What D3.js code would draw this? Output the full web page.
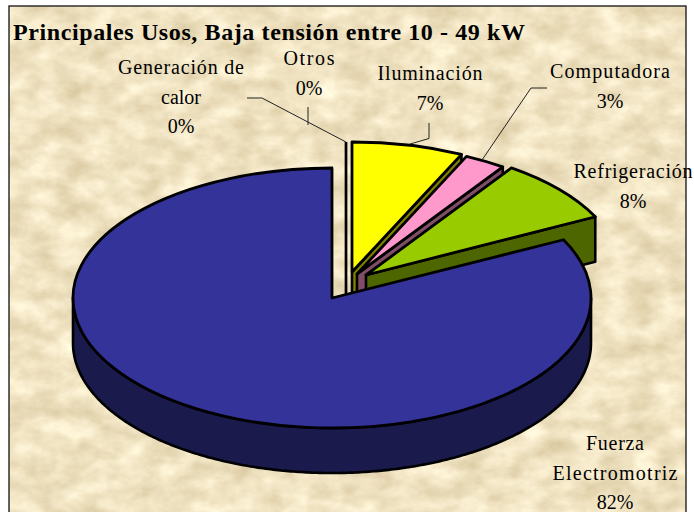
<!DOCTYPE html>
<html>
<head>
<meta charset="utf-8">
<script src="https://cdn.jsdelivr.net/npm/d3@7"></script>
<style>
html,body{margin:0;padding:0;background:#fff;}
svg{display:block;}
text{font-family:"Liberation Serif",serif;fill:#000;}
</style>
</head>
<body>
<svg id="c" width="694" height="512"></svg>
<script>
// Data
const categories = ["Otros", "Generación de calor", "Iluminación", "Computadora", "Refrigeración", "Fuerza Electromotriz"];
const shares = [0, 0, 7.0, 2.6, 8.0, 82.4];
const percentLabels = ["0%", "0%", "7%", "3%", "8%", "82%"];
const title = "Principales Usos, Baja tensión entre 10 - 49 kW";

// Style and layout, kept apart from the data
const topColors = ["#ffffff", "#ffffff", "#ffff00", "#ff99cc", "#99cc00", "#333399"];
const wallColors = ["#808080", "#808080", "#808000", "#804d66", "#4d6600", "#1a1a4d"];
const radiiX = [259, 259, 257, 257, 256.5, 259];
const ry = 130, depth = 45;
const centers = [[346, 272], [346, 272], [352, 272], [357, 274], [366, 275], [332, 298]];
const labelLines = [["Otros"], ["Generación de", "calor"], ["Iluminación"], ["Computadora"], ["Refrigeración"], ["Fuerza", "Electromotriz"]];
const labelPos = [[309, 65], [181, 74], [430, 80], [610, 78], [633, 178], [615, 450]];
const labelLen = [[51], [126], [105], [120], [119], [58, 125]];
const lineGap = 29.5;
const leaders = [
  [[308, 107], [308, 125]],
  [[247, 98], [262, 98], [346, 142]],
  [[429, 123], [429, 138.5], [410, 144]],
  [[547, 88], [531, 88], [482, 160]]
];

const svg = d3.select("#c");
const defs = svg.append("defs");
const flt = defs.append("filter").attr("id", "paper")
  .attr("x", 0).attr("y", 0).attr("width", "100%").attr("height", "100%")
  .attr("color-interpolation-filters", "sRGB");
flt.append("feTurbulence").attr("type", "fractalNoise")
  .attr("baseFrequency", "0.035 0.05").attr("numOctaves", 4).attr("seed", 11);
flt.append("feColorMatrix").attr("type", "matrix").attr("values",
  "0.20 0 0 0 0.84  0.24 0 0 0 0.77  0.30 0 0 0 0.61  0 0 0 0 1");

// paper and frame
svg.append("rect").attr("x", 9).attr("y", 6).attr("width", 677).attr("height", 510)
  .attr("fill", "#f0e3c5").attr("filter", "url(#paper)");
svg.append("rect").attr("x", 9).attr("y", 6).attr("width", 677).attr("height", 515)
  .attr("fill", "none").attr("stroke", "#111").attr("stroke-width", 1.3);

// title
svg.append("text").attr("x", 13).attr("y", 40).text(title)
  .attr("font-weight", "bold").attr("font-size", 24)
  .attr("textLength", 512).attr("lengthAdjust", "spacing");

const pie = d3.pie().sort(null).value(d => d).startAngle(0).endAngle(2 * Math.PI);
const slices = pie(shares);
const arcTop = d3.arc().innerRadius(0).outerRadius(1);
const line = d3.line();
const rim = (i, a, dy = 0) => [
  centers[i][0] + radiiX[i] * Math.sin(a),
  centers[i][1] - ry * Math.cos(a) + dy
];

const layer = svg.append("g");
slices.forEach((s, i) => {
  const g = layer.append("g");
  const [cx, cy] = centers[i];
  if (shares[i] === 0) {
    g.append("path")
      .attr("d", line([rim(i, 0), [cx, cy + depth]]))
      .attr("fill", "none").attr("stroke", "#000").attr("stroke-width", 2.4);
    return;
  }
  const a1 = s.endAngle;
  if (a1 < Math.PI) {
    g.append("path")
      .attr("d", line([[cx, cy], rim(i, a1), rim(i, a1, depth), [cx, cy + depth]]) + "Z")
      .attr("fill", wallColors[i]).attr("stroke", "#000").attr("stroke-width", 2.6)
      .attr("stroke-linejoin", "round");
  }
  const from = Math.max(s.startAngle, Math.PI / 2);
  const to = Math.min(s.endAngle, 3 * Math.PI / 2);
  if (to > from) {
    const angles = d3.range(from, to, 0.01).concat([to]);
    const upper = angles.map(a => rim(i, a));
    const lower = angles.map(a => rim(i, a, depth)).reverse();
    g.append("path")
      .attr("d", line(upper.concat(lower)) + "Z")
      .attr("fill", wallColors[i]).attr("stroke", "#000").attr("stroke-width", 2.6)
      .attr("stroke-linejoin", "round");
  }
  g.append("path")
    .attr("d", arcTop(s))
    .attr("transform", `translate(${cx},${cy}) scale(${radiiX[i]},${ry})`)
    .attr("fill", topColors[i]).attr("stroke", "#000").attr("stroke-width", 2.8)
    .attr("stroke-linejoin", "round")
    .attr("vector-effect", "non-scaling-stroke");
});

// leader lines
svg.append("g").selectAll("path").data(leaders).join("path")
  .attr("d", d => line(d))
  .attr("fill", "none").attr("stroke", "#222").attr("stroke-width", 1);

// labels
categories.forEach((c, i) => {
  const [x, y] = labelPos[i];
  const lines = labelLines[i].concat([percentLabels[i]]);
  lines.forEach((t, j) => {
    const el = svg.append("text")
      .attr("x", x).attr("y", y + j * lineGap)
      .attr("text-anchor", "middle").attr("font-size", 20)
      .attr("fill", "#111").text(t);
    const len = labelLen[i][j];
    if (len) el.attr("textLength", len).attr("lengthAdjust", "spacing");
  });
});
</script>
</body>
</html>
